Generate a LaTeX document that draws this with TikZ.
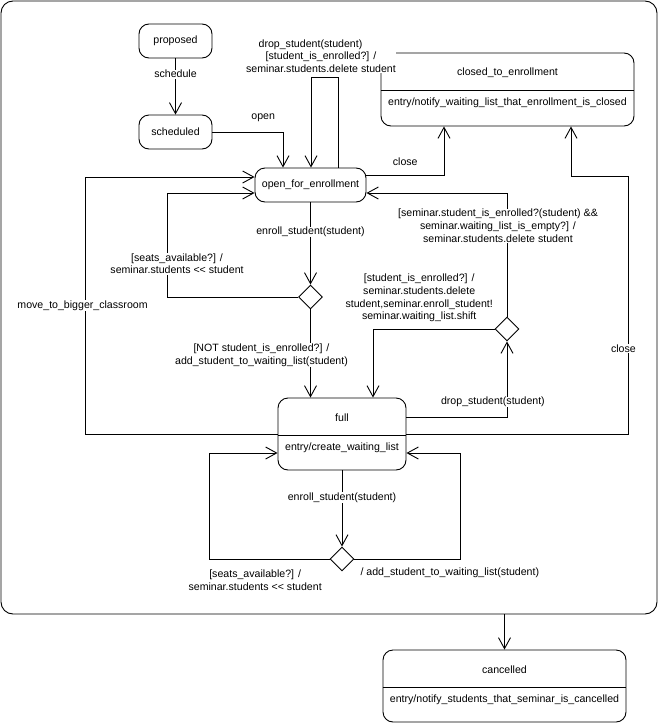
\documentclass[tikz,border=0pt]{standalone}
\usepackage{fontspec}
\setmainfont{Liberation Sans}
\usepackage{tikz}
\usetikzlibrary{shapes.geometric, arrows.meta, positioning}

\begin{document}
\begin{tikzpicture}[x=1pt, y=-1pt, on grid,
  font=\fontsize{10.6}{12.8}\selectfont,
  stbox/.style={draw, rounded corners=10pt, line width=0.9pt, minimum width=73pt, minimum height=34pt, inner sep=0pt},
  choice/.style={draw, diamond, minimum width=24pt, minimum height=24pt, inner sep=0pt, line width=0.9pt},
  trans/.style={-{Straight Barb[length=11pt, width=12pt]}, line width=0.9pt},
  lbl/.style={fill=white, inner sep=0.5pt, align=center}]
  \useasboundingbox (0,0) rectangle (658,723);

  % seminar (composite state)
  \node[stbox, rounded corners=12pt, minimum width=656pt, minimum height=613pt] (seminar) at (329,307.5) {};

  % simple states
  \node[stbox] (proposed) at (175.5,41) {proposed};
  \node[stbox] (scheduled) [below=91pt of proposed] {scheduled};
  \node[stbox, minimum width=111pt] (open) at (310.5,185) {open\_for\_enrollment};

  % states with entry actions
  \node[stbox, minimum width=253pt, minimum height=73pt] (closed) at (507.5,89.5) {};
  \node (closedname) at ([yshift=-20pt]closed.north) {closed\_to\_enrollment};
  \node (closedentry) at ([yshift=-50pt]closed.north) {entry/notify\_waiting\_list\_that\_enrollment\_is\_closed};
  \draw[line width=0.9pt] ([yshift=-38pt]closed.north west) -- ([yshift=-38pt]closed.north east);

  \node[stbox, minimum width=128pt, minimum height=72pt] (full) at (342,434) {};
  \node (fullname) at ([yshift=-20pt]full.north) {full};
  \node (fullentry) at ([yshift=-50pt]full.north) {entry/create\_waiting\_list};
  \draw[line width=0.9pt] ([yshift=-38pt]full.north west) -- ([yshift=-38pt]full.north east);

  \node[stbox, minimum width=243pt, minimum height=72pt] (cancelled) at (504.5,686) {};
  \node (cancelledname) at ([yshift=-20pt]cancelled.north) {cancelled};
  \node (cancelledentry) at ([yshift=-50pt]cancelled.north) {entry/notify\_students\_that\_seminar\_is\_cancelled};
  \draw[line width=0.9pt] ([yshift=-38pt]cancelled.north west) -- ([yshift=-38pt]cancelled.north east);

  % choice points
  \node[choice] (enrollchk) at (310.5,297) {};
  \node[choice] (dropchk) at (507,329) {};
  \node[choice] (waitchk) at (342,559) {};

  % transitions
  \draw[trans] (proposed) -- node[lbl, pos=0.28] {schedule} (scheduled);
  \draw[trans] (scheduled.east) -| node[pos=0.36, yshift=14pt] {open} ([xshift=-27.5pt]open.north);
  \draw[trans] ([xshift=27.5pt]open.north) -- ++(0,-90)
    -| node[lbl, pos=0.315, yshift=21.5pt] {drop\_student(student)\hspace*{21pt}\\ {[student\_is\_enrolled?] /}\hspace*{18pt}\\ seminar.students.delete student} ([xshift=0.5pt]open.north);
  \draw[trans] ([yshift=10pt]open.east) -| node[pos=0.25, yshift=13pt] {close} ([xshift=-63.5pt]closed.south);
  \draw[trans] (full.east) -- ++(222,0) -- node[lbl, pos=0.33, xshift=-5pt] {close} ++(0,-258)
    -| ([xshift=63.5pt]closed.south);
  \draw[trans] (full.west) -- ++(-192,0)
    |- node[lbl, pos=0.25, xshift=-3pt] {move\_to\_bigger\_classroom} ([yshift=8pt]open.west);

  \draw[trans] (open) -- node[lbl, pos=0.36] {enroll\_student(student)} (enrollchk);
  \draw[trans] (enrollchk.west) -- ++(-131,0)
    |- node[lbl, pos=0.16, xshift=10pt] {{[seats\_available?] /}\\ seminar.students <\kern0pt< student} ([yshift=-8pt]open.west);
  \draw[trans] (enrollchk.south) -- node[lbl, pos=0.52, xshift=-49pt] {{[NOT student\_is\_enrolled?] /}\\ add\_student\_to\_waiting\_list(student)} (enrollchk.south |- full.north);

  \draw[trans] (dropchk.north) |- node[lbl, pos=0.367, xshift=-9pt] {{[seminar.student\_is\_enrolled?(student) \&\&}\\ {seminar.waiting\_list\_is\_empty?] /}\\ seminar.students.delete student} ([yshift=-8pt]open.east);
  \draw[trans] ([yshift=17pt]full.east) -| node[lbl, pos=0.43, yshift=15pt] {drop\_student(student)} (dropchk.south);
  \draw[trans] (dropchk.west) -| node[lbl, pos=0.31, yshift=31pt] {{[student\_is\_enrolled?] /}\\ seminar.students.delete\\ student,seminar.enroll\_student!\\ seminar.waiting\_list.shift} ([xshift=31pt]full.north);

  \draw[trans] (full) -- node[lbl, pos=0.36] {enroll\_student(student)} (waitchk);
  \draw[trans] (waitchk.west) -- node[lbl, pos=0.62, yshift=-21.5pt] {{[seats\_available?] /}\\ seminar.students <\kern0pt< student} ++(-120,0)
    |- ([yshift=-19pt]full.west);
  \draw[trans] (waitchk.east) -- node[lbl, pos=0.9, yshift=-14pt] {/ add\_student\_to\_waiting\_list(student)} ++(106,0)
    |- ([yshift=-19pt]full.east);

  \draw[trans] (seminar.south -| cancelled.north) -- (cancelled.north);
\end{tikzpicture}
\end{document}
